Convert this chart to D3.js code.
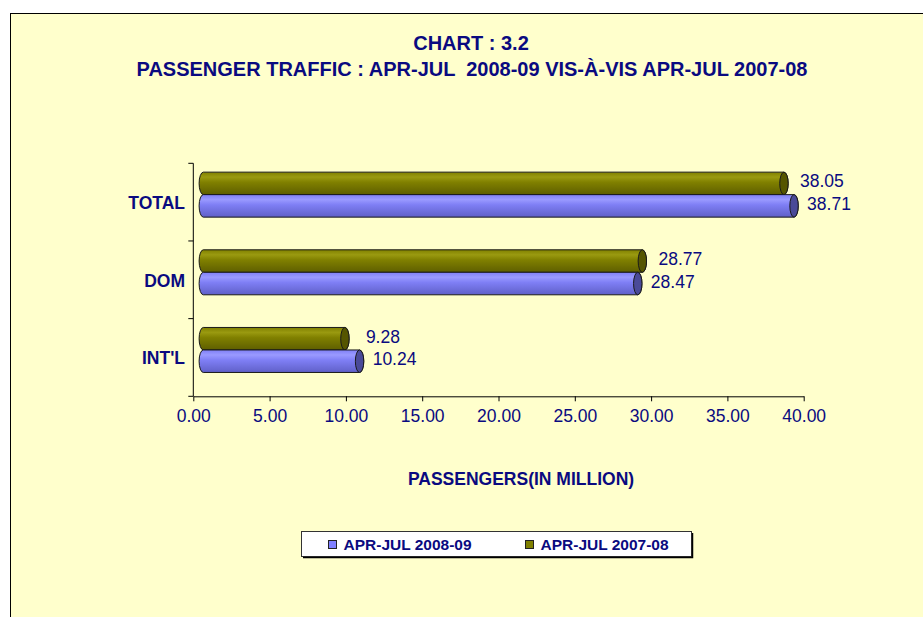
<!DOCTYPE html>
<html lang="en">
<head>
<meta charset="utf-8">
<script src="https://d3js.org/d3.v7.min.js"></script>
<style>
  body { margin: 0; background: #ffffff; }
  svg text { font-family: "Liberation Sans", Arial, sans-serif; fill: #0a0a80; }
</style>
</head>
<body>
<div id="chart"></div>
<script>
// data
var categories = ["TOTAL", "DOM", "INT'L"];
var seriesNames = ["APR-JUL 2007-08", "APR-JUL 2008-09"];   // drawing order (top bar first)
var values2007 = [38.05, 28.77, 9.28];
var values2008 = [38.71, 28.47, 10.24];
var xTicks = [0, 5, 10, 15, 20, 25, 30, 35, 40];
var legendNames = ["APR-JUL 2008-09", "APR-JUL 2007-08"];

var width = 923, height = 617;
var depthX = 10, depthY = -7.5;   // 3D offset of the cylinders
var capRx = 4.2;

var colors = {
  "APR-JUL 2008-09": { light: "#9a9aff", mid: "#7f7ff5", dark: "#6060c8", cap: "#4a4a98" },
  "APR-JUL 2007-08": { light: "#9a9a10", mid: "#808000", dark: "#5e5e00", cap: "#555500" }
};

var svg = d3.select("#chart").append("svg")
  .attr("width", width)
  .attr("height", height);

// chart area
svg.append("rect")
  .attr("x", 10.5).attr("y", 13.5)
  .attr("width", width).attr("height", height)
  .attr("fill", "#ffffcc")
  .attr("stroke", "#000").attr("stroke-width", 1);

// titles
svg.append("text")
  .attr("x", 471).attr("y", 50)
  .attr("text-anchor", "middle")
  .style("font-size", "20px").style("font-weight", "bold")
  .text("CHART : 3.2");
svg.append("text")
  .attr("x", 472).attr("y", 76)
  .attr("text-anchor", "middle")
  .style("font-size", "20px").style("font-weight", "bold")
  .style("white-space", "pre")
  .text("PASSENGER TRAFFIC : APR-JUL  2008-09 VIS-\u00C0-VIS APR-JUL 2007-08");

// scales
var x = d3.scaleLinear().domain([0, 40]).range([193.3, 803.7]);
var y = d3.scaleBand().domain(categories).range([163.3, 396.3]);
var ySub = d3.scaleBand().domain(seriesNames).range([0, 45]);
var barH = ySub.bandwidth();

// gradients
var defs = svg.append("defs");
seriesNames.forEach(function (s, i) {
  var c = colors[s];
  var g = defs.append("linearGradient")
    .attr("id", "grad" + i)
    .attr("x1", 0).attr("y1", 0).attr("x2", 0).attr("y2", 1);
  g.append("stop").attr("offset", "0%").attr("stop-color", c.mid);
  g.append("stop").attr("offset", "22%").attr("stop-color", c.light);
  g.append("stop").attr("offset", "45%").attr("stop-color", c.mid);
  g.append("stop").attr("offset", "100%").attr("stop-color", c.dark);
});

// x axis
var xAxis = svg.append("g")
  .attr("transform", "translate(0,396.3)")
  .call(d3.axisBottom(x).tickValues(xTicks).tickFormat(d3.format(".2f")).tickSizeInner(5).tickSizeOuter(0));
xAxis.select(".domain").attr("stroke", "#000");
xAxis.selectAll(".tick line").attr("stroke", "#000");
xAxis.selectAll(".tick text")
  .attr("y", 0).attr("dy", null)
  .attr("transform", "translate(0,26)")
  .style("font-size", "17.5px")
  .style("font-family", "'Liberation Sans', Arial, sans-serif")
  .attr("fill", "#0a0a80");

// y axis line + ticks between categories
var yAxis = svg.append("g");
yAxis.append("line")
  .attr("x1", x(0)).attr("x2", x(0))
  .attr("y1", y.range()[0]).attr("y2", y.range()[1])
  .attr("stroke", "#000");
var boundaries = categories.map(function (c) { return y(c); }).concat([y.range()[1]]);
yAxis.selectAll(".btick").data(boundaries).enter().append("line")
  .attr("x1", x(0) - 5).attr("x2", x(0))
  .attr("y1", function (d) { return d; }).attr("y2", function (d) { return d; })
  .attr("stroke", "#000");
yAxis.selectAll(".clabel").data(categories).enter().append("text")
  .attr("x", 185)
  .attr("y", function (d) { return y(d) + y.bandwidth() / 2 + 7; })
  .attr("text-anchor", "end")
  .style("font-size", "17.5px").style("font-weight", "bold")
  .text(function (d) { return d; });

// bars as cylinders
var rows = [];
categories.forEach(function (c, i) {
  rows.push({ cat: c, series: "APR-JUL 2007-08", value: values2007[i], gi: 0 });
  rows.push({ cat: c, series: "APR-JUL 2008-09", value: values2008[i], gi: 1 });
});

function barTop(d) {
  return y(d.cat) + (y.bandwidth() - 45) / 2 + ySub(d.series) + depthY;
}

var bars = svg.append("g").selectAll("g").data(rows).enter().append("g");
bars.append("path")
  .attr("d", function (d) {
    var x0 = x(0) + depthX, x1 = x(d.value) + depthX;
    var t = barTop(d), b = t + barH, ry = barH / 2;
    return "M" + x0 + "," + t + "L" + x1 + "," + t +
      "A" + capRx + "," + ry + " 0 0 1 " + x1 + "," + b +
      "L" + x0 + "," + b +
      "A" + capRx + "," + ry + " 0 0 1 " + x0 + "," + t + "Z";
  })
  .attr("fill", function (d) { return "url(#grad" + d.gi + ")"; })
  .attr("stroke", "#1a1a1a").attr("stroke-width", 1);
bars.append("ellipse")
  .attr("cx", function (d) { return x(d.value) + depthX; })
  .attr("cy", function (d) { return barTop(d) + barH / 2; })
  .attr("rx", capRx).attr("ry", barH / 2)
  .attr("fill", function (d) { return colors[d.series].cap; })
  .attr("stroke", "#1a1a1a").attr("stroke-width", 1);

// value labels
bars.append("text")
  .attr("x", function (d) { return x(d.value) + (d.gi === 0 ? 48 : 45); })
  .attr("y", function (d) { return barTop(d) + barH / 2 + 4; })
  .attr("text-anchor", "middle")
  .style("font-size", "17.5px")
  .text(function (d) { return d.value.toFixed(2); });

// axis title
svg.append("text")
  .attr("x", 521).attr("y", 485)
  .attr("text-anchor", "middle")
  .style("font-size", "17.5px").style("font-weight", "bold")
  .text("PASSENGERS(IN MILLION)");

// legend
var legend = svg.append("g");
legend.append("rect")
  .attr("x", 301.5).attr("y", 531.5).attr("width", 390).attr("height", 25)
  .attr("fill", "#ffffff").attr("stroke", "#333").attr("stroke-width", 1);
legend.append("path")
  .attr("d", "M303,557.5H692.5V533")
  .attr("fill", "none").attr("stroke", "#000").attr("stroke-width", 1.5);
var legendX = [328.5, 525.5];
legendNames.forEach(function (s, i) {
  legend.append("rect")
    .attr("x", legendX[i]).attr("y", 540.5).attr("width", 8).attr("height", 8)
    .attr("fill", s === "APR-JUL 2008-09" ? "#8080ff" : "#808000")
    .attr("stroke", "#222").attr("stroke-width", 1);
  legend.append("text")
    .attr("x", legendX[i] + 15).attr("y", 549.5)
    .style("font-size", "15.5px").style("font-weight", "bold")
    .text(s);
});
</script>
</body>
</html>
